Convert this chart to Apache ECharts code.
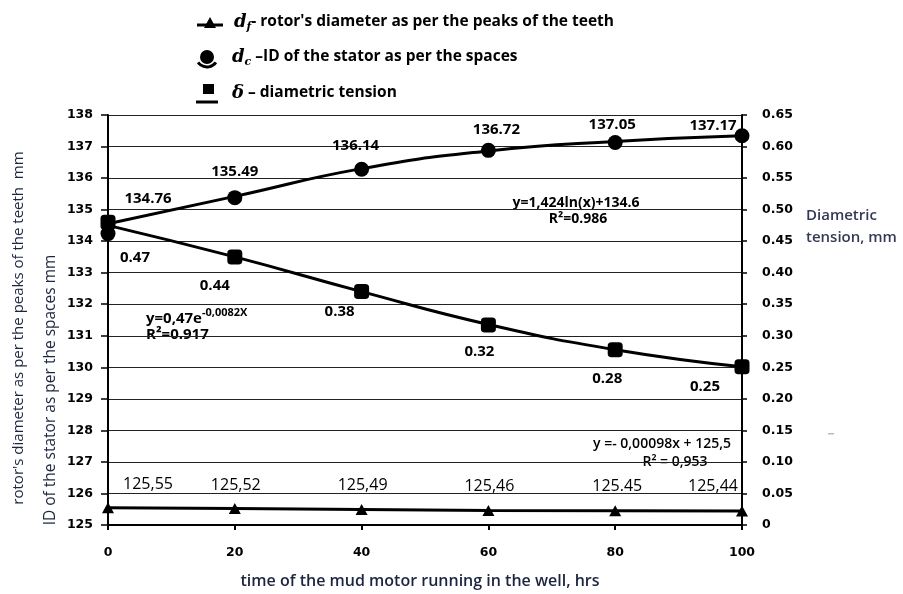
<!DOCTYPE html>
<html>
<head>
<meta charset="utf-8">
<script src="https://cdn.jsdelivr.net/npm/echarts@6/dist/echarts.min.js"></script>
<style>html,body{margin:0;padding:0;background:#fff}#c{width:903px;height:594px}</style>
</head>
<body>
<div id="c"></div>
<script>
// ---- data ----
var hours = [0, 20, 40, 60, 80, 100];
var xTicks = [0, 20, 40, 60, 80, 100];
var leftTicks = [125, 126, 127, 128, 129, 130, 131, 132, 133, 134, 135, 136, 137, 138];
var rightTicks = ['0', '0.05', '0.10', '0.15', '0.20', '0.25', '0.30', '0.35', '0.40', '0.45', '0.50', '0.55', '0.60', '0.65'];
// d_f rotor diameter (left axis)
var dfValues = [125.55, 125.52, 125.49, 125.46, 125.45, 125.44];
var dfLabels = ['125,55', '125,52', '125,49', '125,46', '125.45', '125,44'];
// d_c stator ID (left axis), positions as plotted
var dcValues = [134.24, 135.38, 136.28, 136.88, 137.13, 137.34];
var dcLabels = ['134.76', '135.49', '136.14', '136.72', '137.05', '137.17'];
var dcTrend = [134.55, 135.42, 136.3, 136.86, 137.16, 137.34];
// delta diametric tension (right axis)
var tensionValues = [0.48, 0.425, 0.37, 0.317, 0.278, 0.251];
var tensionLabels = ['0.47', '0.44', '0.38', '0.32', '0.28', '0.25'];
var tensionTrend = [0.475, 0.425, 0.37, 0.318, 0.278, 0.251];

// ---- styles ----
var dcOff = [[40,-35],[0,-26],[-6,-24],[8,-21],[-3,-18],[-29,-10]];
var tOff = [[27,36],[-20,29],[-22,20],[-9,27],[-8,29],[-37,20]];
var fOff = [[40,-23],[1,-23],[1,-24],[1,-24],[2,-24],[-29,-25]];
var NAVY = '#1c2540';
var boldLbl = {fontFamily: 'Open Sans', fontWeight: 'bold', fontSize: 15, color: '#000', textBorderWidth: 0, opacity: 1};

function pts(vals, labels, offs, lblStyle) {
  return vals.map(function (v, i) {
    return {
      value: [hours[i], v],
      label: Object.assign({show: true, position: 'inside', offset: offs[i],
        formatter: labels[i]}, lblStyle)
    };
  });
}
function line(vals) { return vals.map(function (v, i) { return [hours[i], v]; }); }

var chart = echarts.init(document.getElementById('c'), null, {renderer: 'canvas'});

function txt(x, y, text, font, fill, align, rot) {
  return {type: 'text', x: x, y: y, rotation: rot || 0, silent: true,
    style: {text: text, font: font, fill: fill || '#000',
      textAlign: align || 'left', textVerticalAlign: 'middle',
      align: align || 'left', verticalAlign: 'middle'}};
}
function richTxt(x, y, text, rich) {
  return {type: 'text', x: x, y: y, silent: true,
    style: {text: text, rich: rich, textVerticalAlign: 'middle', verticalAlign: 'middle',
      font: '700 15px "Open Sans"', fill: '#000'}};
}
var legRich = {
  d: {fontFamily: 'DejaVu Serif', fontStyle: 'italic', fontWeight: 'bold', fontSize: 18, fill: '#000', color: '#000'},
  s: {fontFamily: 'DejaVu Serif', fontStyle: 'italic', fontWeight: 'bold', fontSize: 11, fill: '#000', color: '#000', padding: [10, 0, 0, 0]},
  t: {fontFamily: 'Open Sans', fontWeight: 'bold', fontSize: 15.5, fill: '#000', color: '#000'}
};
var expRich = {
  t: {fontFamily: 'Open Sans', fontWeight: 'bold', fontSize: 15, fill: '#000', color: '#000'},
  sup: {fontFamily: 'Open Sans', fontWeight: 'bold', fontSize: 11, fill: '#000', color: '#000', padding: [0, 0, 12, 0]}
};

var option = {
  animation: false,
  backgroundColor: '#fff',
  grid: {left: 108, right: 161, top: 115, bottom: 69, containLabel: false},
  xAxis: {
    type: 'value', min: 0, max: 100, interval: 20,
    axisLine: {show: true, lineStyle: {color: '#000', width: 2}},
    axisTick: {show: true, length: 5, lineStyle: {color: '#000', width: 2}},
    splitLine: {show: false},
    axisLabel: {margin: 21, fontFamily: 'DejaVu Sans', fontWeight: 'bold', fontSize: 12.5, color: '#000',
      formatter: function (v) { return xTicks.indexOf(v) >= 0 ? String(v) : ''; }}
  },
  yAxis: [{
    type: 'value', min: 125, max: 138, interval: 1, position: 'left',
    axisLine: {show: true, lineStyle: {color: '#000', width: 2}},
    axisTick: {show: true, length: 7, lineStyle: {color: '#000', width: 1.5}},
    splitLine: {show: true, lineStyle: {color: '#222', width: 1}},
    axisLabel: {margin: 15, fontFamily: 'DejaVu Sans', fontWeight: 'bold', fontSize: 12.5, color: '#000',
      formatter: function (v) { var i = Math.round(v - 125); return leftTicks[i] !== undefined ? String(leftTicks[i]) : ''; }}
  }, {
    type: 'value', min: 0, max: 0.65, interval: 0.05, position: 'right',
    axisLine: {show: true, lineStyle: {color: '#000', width: 2}},
    axisTick: {show: true, length: 5, lineStyle: {color: '#000', width: 1.5}},
    splitLine: {show: false},
    axisLabel: {margin: 20, fontFamily: 'DejaVu Sans', fontWeight: 'bold', fontSize: 12.5, color: '#000',
      formatter: function (v) { var i = Math.round(v / 0.05); return rightTicks[i] || ''; }}
  }],
  series: [
    {type: 'line', name: 'df', yAxisIndex: 0, data: pts(dfValues, dfLabels, fOff,
        {fontFamily: 'Open Sans', fontWeight: 'normal', fontSize: 16, color: '#000', textBorderWidth: 0}),
      symbol: 'triangle', symbolSize: [12, 11], itemStyle: {color: '#000', opacity: 1},
      lineStyle: {color: '#000', width: 3}, z: 3},
    {type: 'line', name: 'dcTrend', yAxisIndex: 0, data: line(dcTrend), smooth: 0.5,
      showSymbol: false, symbol: 'none', lineStyle: {color: '#000', width: 3}, z: 2},
    {type: 'scatter', name: 'dc', yAxisIndex: 0, data: pts(dcValues, dcLabels, dcOff, boldLbl),
      symbol: 'circle', symbolSize: 15, itemStyle: {color: '#000', opacity: 1}, z: 4},
    {type: 'line', name: 'tTrend', yAxisIndex: 1, data: line(tensionTrend), smooth: 0.5,
      showSymbol: false, symbol: 'none', lineStyle: {color: '#000', width: 3}, z: 2},
    {type: 'scatter', name: 'tension', yAxisIndex: 1, data: pts(tensionValues, tensionLabels, tOff, boldLbl),
      symbol: 'roundRect', symbolSize: 15, itemStyle: {color: '#000', opacity: 1, borderRadius: 2}, z: 4}
  ],
  graphic: [
    // legend icons
    {type: 'polygon', shape: {points: [[204, 28], [216, 28], [210, 17]]}, style: {fill: '#000'}},
    {type: 'line', shape: {x1: 197, y1: 25, x2: 223, y2: 25}, style: {stroke: '#000', lineWidth: 3}},
    {type: 'circle', shape: {cx: 207, cy: 57, r: 7}, style: {fill: '#000'}},
    {type: 'arc', shape: {cx: 207, cy: 56, r: 11, startAngle: Math.PI * 0.2, endAngle: Math.PI * 0.8}, style: {stroke: '#000', lineWidth: 3, fill: null}},
    {type: 'rect', shape: {x: 203, y: 84, width: 11, height: 10}, style: {fill: '#000'}},
    {type: 'line', shape: {x1: 196, y1: 102, x2: 218, y2: 102}, style: {stroke: '#000', lineWidth: 3}},
    richTxt(234, 22, '{d|d}{s|f}{t|- rotor\'s diameter as per the peaks of the teeth}', legRich),
    richTxt(232, 57, '{d|d}{s|c}{t| \u2013ID of the stator as per the spaces}', legRich),
    richTxt(232, 93, '{d|\u03b4}{t| \u2013 diametric tension}', legRich),
    // axis titles
    txt(19, 328, 'rotor\'s diameter as per the peaks of the teeth  mm', '15px "Open Sans"', NAVY, 'center', Math.PI / 2),
    txt(51, 390, 'ID of the stator as per the spaces mm', '15.5px "Open Sans"', NAVY, 'center', Math.PI / 2),
    txt(806, 216, 'Diametric', '600 15px "Open Sans"', '#333a55'),
    txt(806, 238, 'tension, mm', '600 15px "Open Sans"', '#333a55'),
    txt(420, 581, 'time of the mud motor running in the well, hrs', '600 16px "Open Sans"', NAVY, 'center'),
    // trendline equations
    richTxt(146, 319, '{t|y=0,47e}{sup|-0,0082X}', expRich),
    txt(146, 335, 'R\u00b2=0.917', '700 15px "Open Sans"', '#000'),
    txt(576, 203, 'y=1,424ln(x)+134.6', '700 14px "Open Sans"', '#000', 'center'),
    txt(578, 219, 'R\u00b2=0.986', '700 14px "Open Sans"', '#000', 'center'),
    txt(662, 444, 'y =- 0,00098x + 125,5', '600 14px "Open Sans"', '#000', 'center'),
    txt(675, 462, 'R\u00b2 = 0,953', '600 14px "Open Sans"', '#000', 'center'),
    {type: 'rect', shape: {x: 828, y: 433, width: 6, height: 1.5}, style: {fill: '#bbb'}}
  ]
};
chart.setOption(option);
</script>
</body>
</html>
